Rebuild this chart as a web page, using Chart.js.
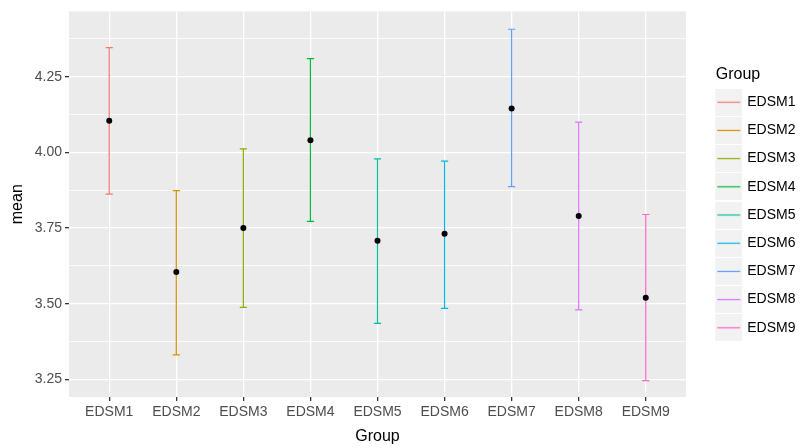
<!DOCTYPE html>
<html>
<head>
<meta charset="utf-8">
<script src="https://cdn.jsdelivr.net/npm/chart.js@4/dist/chart.umd.min.js"></script>
<style>
  html, body { margin: 0; padding: 0; background: #fff; }
  #wrap { width: 800px; height: 448px; }
</style>
</head>
<body>
<div id="wrap"><canvas id="errChart"></canvas></div>
<script>
// data
const groups = ['EDSM1', 'EDSM2', 'EDSM3', 'EDSM4', 'EDSM5', 'EDSM6', 'EDSM7', 'EDSM8', 'EDSM9'];
const means = [4.105, 3.605, 3.750, 4.040, 3.708, 3.731, 4.145, 3.790, 3.520];
const upper = [4.346, 3.874, 4.012, 4.310, 3.979, 3.971, 4.407, 4.100, 3.795];
const lower = [3.862, 3.331, 3.488, 3.772, 3.435, 3.485, 3.887, 3.480, 3.246];
const groupColors = ['#F8766D', '#D39200', '#93AA00', '#00BA38', '#00C19F', '#00B9E3', '#619CFF', '#DB72FB', '#FF61C3'];
const yMajorTicks = [3.25, 3.50, 3.75, 4.00, 4.25];
const yMinorTicks = [3.375, 3.625, 3.875, 4.125, 4.375];

const FONT = '"Liberation Sans", Arial, sans-serif';

function isMajor(v) {
    return yMajorTicks.some(t => Math.abs(t - v) < 1e-6);
}

// grey ggplot panel
const panelBg = {
    id: 'panelBg',
    beforeDraw(chart) {
        const a = chart.chartArea;
        const ctx = chart.ctx;
        ctx.save();
        ctx.fillStyle = '#EBEBEB';
        ctx.fillRect(a.left, a.top, a.right - a.left, a.bottom - a.top);
        ctx.restore();
    }
};

// let the legend labels run into the right margin (legend clips to its box)
const legendClip = {
    id: 'legendClip',
    afterLayout(chart) {
        if (chart.legend) chart.legend.right = chart.width;
    }
};

// legend key: grey square with a coloured line, pushed to the right of a 44px canvas
function legendKey(color) {
    const c = document.createElement('canvas');
    c.width = 44;
    c.height = 27;
    const g = c.getContext('2d');
    g.fillStyle = '#F2F2F2';
    g.fillRect(17, 0, 27, 27);
    g.strokeStyle = color;
    g.lineWidth = 1.2;
    g.beginPath();
    g.moveTo(19, 13.5);
    g.lineTo(42, 13.5);
    g.stroke();
    return c;
}
const legendKeys = groupColors.map(legendKey);

const errorSets = groups.map((g, i) => ({
    label: g,
    data: [{x: i, y: lower[i]}, {x: i, y: upper[i]}],
    showLine: true,
    borderColor: groupColors[i],
    backgroundColor: groupColors[i],
    borderWidth: 1.2,
    pointStyle: 'line',
    pointRadius: 3.6,
    pointHoverRadius: 3.6,
    pointBorderWidth: 1.2,
    pointBorderColor: groupColors[i],
    order: 1
}));

const meanSet = {
    label: 'mean',
    data: means.map((m, i) => ({x: i, y: m})),
    pointStyle: 'circle',
    pointRadius: 3,
    pointHoverRadius: 3,
    backgroundColor: '#000000',
    borderColor: '#000000',
    borderWidth: 0,
    order: 0
};

new Chart(document.getElementById('errChart').getContext('2d'), {
    type: 'scatter',
    data: { datasets: [...errorSets, meanSet] },
    plugins: [panelBg, legendClip],
    options: {
        responsive: true,
        maintainAspectRatio: false,
        animation: false,
        events: [],
        layout: { padding: { top: 8, right: 10, bottom: 0, left: 0 } },
        scales: {
            x: {
                type: 'linear',
                min: -0.6,
                max: 8.6,
                afterBuildTicks: scale => {
                    scale.ticks = groups.map((g, i) => ({ value: i }));
                },
                afterFit: scale => { scale.height = 51; },
                ticks: {
                    autoSkip: false,
                    maxRotation: 0,
                    padding: 3,
                    color: '#4D4D4D',
                    font: { family: FONT, size: 14 },
                    callback: v => groups[v]
                },
                grid: {
                    color: '#FFFFFF',
                    lineWidth: 1.3,
                    tickColor: '#333333',
                    tickLength: 4
                },
                border: { display: false },
                title: {
                    display: true,
                    text: 'Group',
                    color: '#000000',
                    font: { family: FONT, size: 16 },
                    padding: { top: 0, bottom: 2 }
                }
            },
            y: {
                type: 'linear',
                min: 3.192,
                max: 4.466,
                afterBuildTicks: scale => {
                    scale.ticks = [...yMajorTicks, ...yMinorTicks].sort((a, b) => a - b).map(v => ({ value: v }));
                },
                afterFit: scale => { scale.width = 69; },
                ticks: {
                    padding: 3,
                    color: '#4D4D4D',
                    font: { family: FONT, size: 14 },
                    callback: v => isMajor(v) ? v.toFixed(2) : ''
                },
                grid: {
                    color: '#FFFFFF',
                    lineWidth: ctx => isMajor(ctx.tick.value) ? 1.3 : 0.8,
                    tickColor: ctx => isMajor(ctx.tick.value) ? '#333333' : 'rgba(0,0,0,0)',
                    tickLength: 4
                },
                border: { display: false },
                title: {
                    display: true,
                    text: 'mean',
                    color: '#000000',
                    font: { family: FONT, size: 16 },
                    padding: { top: 8, bottom: 0 }
                }
            }
        },
        plugins: {
            tooltip: { enabled: false },
            legend: {
                position: 'right',
                align: 'start',
                maxWidth: 104,
                title: {
                    display: true,
                    text: 'Group',
                    color: '#000000',
                    font: { family: FONT, size: 16, lineHeight: 1 },
                    padding: { top: 59, bottom: -2 }
                },
                labels: {
                    usePointStyle: true,
                    pointStyleWidth: 40,
                    padding: 14.2,
                    color: '#1A1A1A',
                    font: { family: FONT, size: 14 },
                    generateLabels: () => groups.map((g, i) => ({
                        text: g,
                        pointStyle: legendKeys[i],
                        fillStyle: groupColors[i],
                        strokeStyle: groupColors[i],
                        lineWidth: 0,
                        hidden: false,
                        datasetIndex: i
                    }))
                }
            }
        }
    }
});
</script>
</body>
</html>
